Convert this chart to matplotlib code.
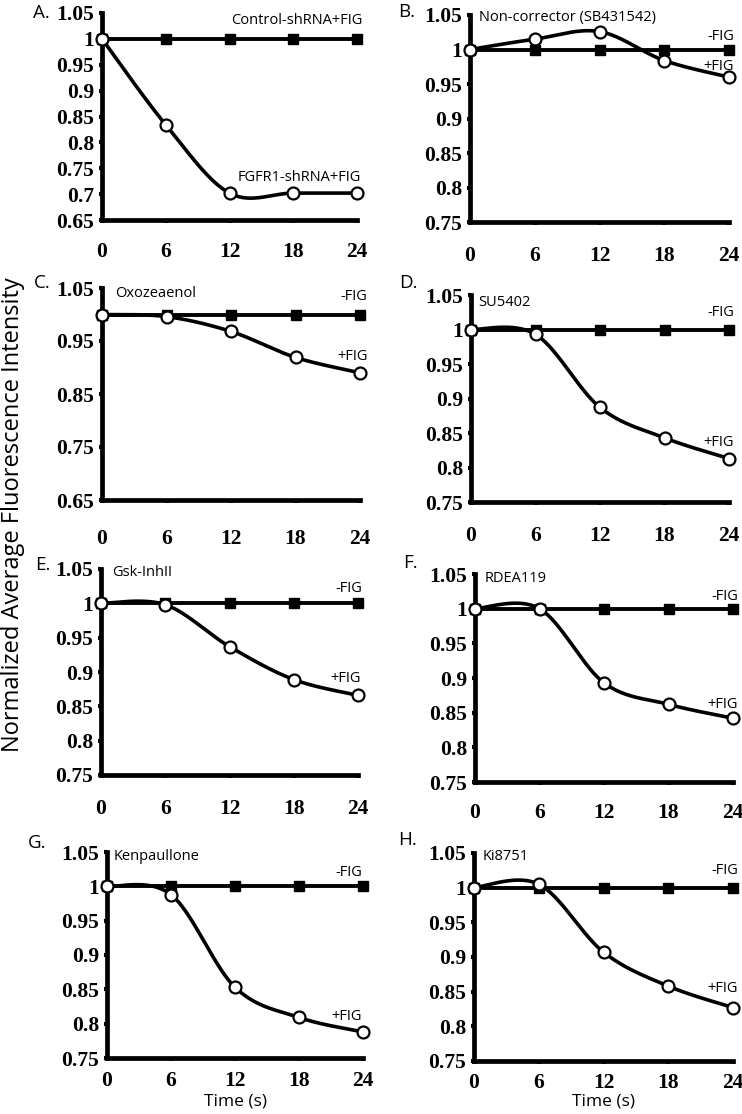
import numpy as np
import matplotlib
matplotlib.use("Agg")
import matplotlib.pyplot as plt

W, H = 742, 1114

time_s = [0, 6, 12, 18, 24]
x_tick_labels = ["0", "6", "12", "18", "24"]

minus_fig = [1.0, 1.0, 1.0, 1.0, 1.0]

plus_A = [1.0, 0.834, 0.702, 0.702, 0.702]
plus_B = [1.0, 1.015, 1.026, 0.984, 0.960]
plus_C = [1.0, 0.996, 0.968, 0.919, 0.890]
plus_D = [1.0, 0.993, 0.887, 0.843, 0.813]
plus_E = [1.0, 0.998, 0.937, 0.889, 0.866]
plus_F = [1.0, 1.0, 0.893, 0.862, 0.842]
plus_G = [1.0, 0.988, 0.853, 0.809, 0.788]
plus_H = [1.0, 1.005, 0.907, 0.858, 0.827]

panel_letters = ["A.", "B.", "C.", "D.", "E.", "F.", "G.", "H."]
panel_names = ["", "Non-corrector (SB431542)", "Oxozeaenol", "SU5402",
               "Gsk-InhII", "RDEA119", "Kenpaullone", "Ki8751"]

yticks_A = [0.65, 0.7, 0.75, 0.8, 0.85, 0.9, 0.95, 1.0, 1.05]
yticks_C = [0.65, 0.75, 0.85, 0.95, 1.05]
yticks_std = [0.75, 0.8, 0.85, 0.9, 0.95, 1.0, 1.05]

SERIF = "Liberation Serif"
SANS = "Open Sans"


def smooth(xs, ys, n=40):
    """Excel-like smoothed line (Catmull-Rom / Bezier) through the data points."""
    P = np.column_stack([xs, ys]).astype(float)
    m = len(P)
    out = []
    for i in range(m - 1):
        p0 = P[max(i - 1, 0)]
        p1 = P[i]
        p2 = P[i + 1]
        p3 = P[min(i + 2, m - 1)]
        c1 = p1 + (p2 - p0) / 6.0
        c2 = p2 - (p3 - p1) / 6.0
        t = np.linspace(0, 1, n)[:, None]
        seg = ((1 - t) ** 3) * p1 + 3 * ((1 - t) ** 2) * t * c1 + 3 * (1 - t) * t ** 2 * c2 + t ** 3 * p2
        out.append(seg if i == 0 else seg[1:])
    out = np.vstack(out)
    return out[:, 0], out[:, 1]


fig = plt.figure(figsize=(W / 100, H / 100), dpi=100)


def px_axes(l, t, r, b):
    return fig.add_axes([l / W, 1 - b / H, (r - l) / W, (b - t) / H])


def ftext(x, y, s, **kw):
    fig.text(x / W, 1 - y / H, s, **kw)


# (left, top, right, bottom) in pixels, ylim, yticks, x-label pad (pt)
panels = [
    ((102, 13, 357, 220), (0.65, 1.05), yticks_A, 13.5, plus_A),
    ((470, 15, 729, 222), (0.75, 1.05), yticks_std, 14.5, plus_B),
    ((102, 288, 360, 500), (0.65, 1.05), yticks_C, 18.5, plus_C),
    ((471, 295, 729, 502), (0.75, 1.05), yticks_std, 14.5, plus_D),
    ((101, 569, 358, 775), (0.75, 1.05), yticks_std, 15.0, plus_E),
    ((475, 574, 733, 782), (0.75, 1.05), yticks_std, 12.5, plus_F),
    ((107, 852, 363, 1058), (0.75, 1.05), yticks_std, 6.5, plus_G),
    ((474, 853, 733, 1061), (0.75, 1.05), yticks_std, 6.0, plus_H),
]

for (box, ylim, yt, xpad, plus) in panels:
    ax = px_axes(*box)
    ax.set_xlim(0, 24)
    ax.set_ylim(*ylim)
    for s in ["top", "right"]:
        ax.spines[s].set_visible(False)
    for s in ["left", "bottom"]:
        ax.spines[s].set_linewidth(3.4)
        ax.spines[s].set_capstyle("projecting")
    ax.set_xticks(time_s)
    ax.set_xticklabels(x_tick_labels)
    ax.set_yticks(yt)
    ax.set_yticklabels(["{:g}".format(v) for v in yt])
    ax.tick_params(axis="both", direction="out", length=2.5, width=3.0, color="black")
    ax.tick_params(axis="x", pad=xpad)
    ax.tick_params(axis="y", pad=3.0)
    for lab in ax.get_xticklabels() + ax.get_yticklabels():
        lab.set_fontfamily(SERIF)
        lab.set_fontweight("bold")
        lab.set_fontsize(15.5)

    ax.plot(time_s, minus_fig, color="black", lw=2.8, marker="s", markersize=7.4,
            markerfacecolor="black", markeredgecolor="black", clip_on=False, zorder=3)
    sx, sy = smooth(time_s, plus)
    ax.plot(sx, sy, color="black", lw=2.6, clip_on=False, zorder=4,
            solid_capstyle="round")
    ax.plot(time_s, plus, linestyle="none", marker="o", markersize=8.6,
            markerfacecolor="white", markeredgecolor="black", markeredgewidth=1.6,
            clip_on=False, zorder=5)

# Panel letters
letter_pos = [(33, 13), (398, 12), (34, 283), (399, 283), (35, 565), (403, 563), (28, 843), (398, 840)]
for (x, y), s in zip(letter_pos, panel_letters):
    ftext(x, y, s, family=SANS, fontsize=13.5, ha="left", va="center")

# Panel names
name_pos = [None, (479, 17), (115, 293), (478, 302), (112, 572), (485, 579), (114, 856), (483, 856)]
for p, s in zip(name_pos, panel_names):
    if p is None:
        continue
    ftext(p[0], p[1], s, family=SANS, fontsize=10.5, ha="left", va="center")

# Series annotations
ftext(362, 20, "Control-shRNA+FIG", family=SANS, fontsize=10.5, ha="right", va="center")
ftext(361, 177, "FGFR1-shRNA+FIG", family=SANS, fontsize=10.5, ha="right", va="center")

minus_pos = [None, (734, 37), (367, 297), (734, 313), (362, 588), (738, 597), (362, 873), (738, 871)]
plus_pos = [None, (734, 67), (368, 356), (734, 443), (361, 678), (738, 704), (362, 1016), (738, 989)]
for p in minus_pos:
    if p is not None:
        ftext(p[0], p[1], "-FIG", family=SANS, fontsize=10.5, ha="right", va="center")
for p in plus_pos:
    if p is not None:
        ftext(p[0], p[1], "+FIG", family=SANS, fontsize=10.5, ha="right", va="center")

# Axis titles
ftext(1, 515, "Normalized Average Fluorescence Intensity", family=SANS, fontsize=17,
      rotation=90, ha="left", va="center")
ftext(236, 1101, "Time (s)", family=SANS, fontsize=12.5, ha="center", va="center")
ftext(603, 1101, "Time (s)", family=SANS, fontsize=12.5, ha="center", va="center")

fig.savefig("out.png", dpi=100, facecolor="white")
